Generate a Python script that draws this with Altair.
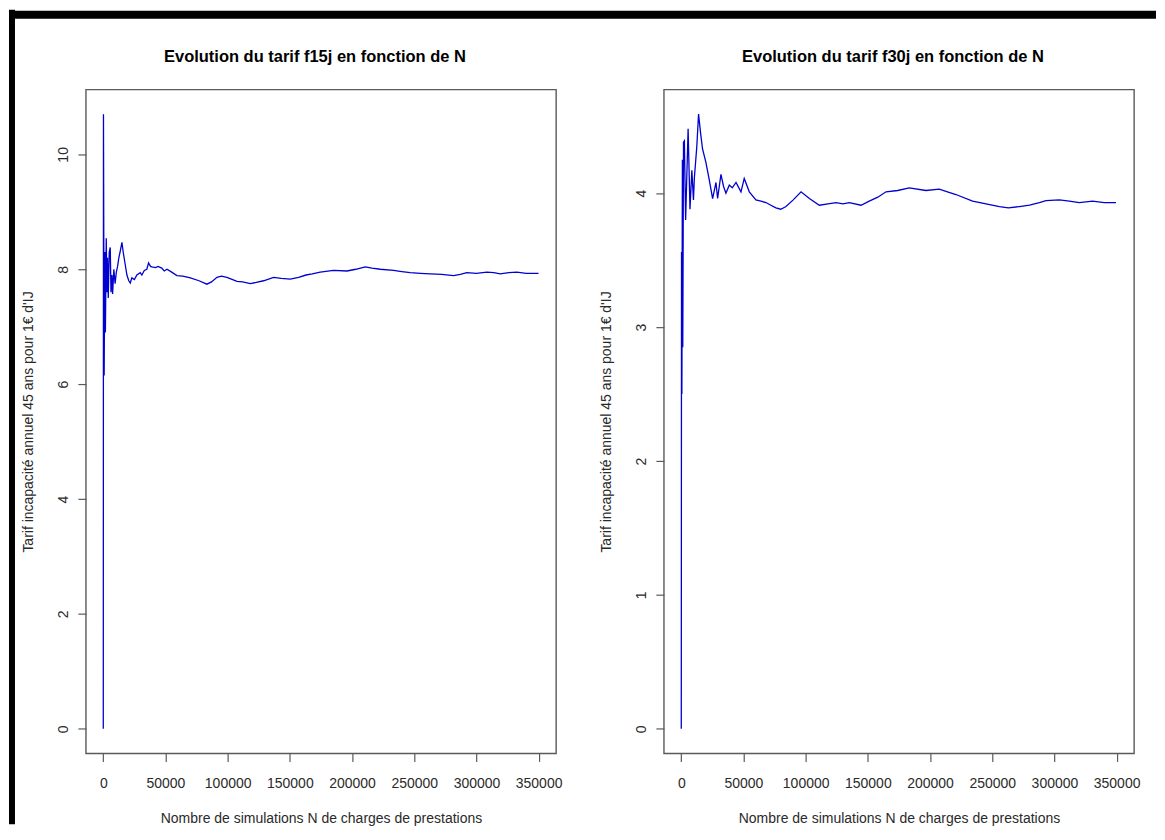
import altair as alt
import pandas as pd

# ---- data ----
n_f15 = [0, 150, 700, 1000, 1300, 1700, 2400, 2900, 3400, 4000, 4800, 5600, 6200,
         7000, 7500, 8500, 9500, 10500, 11500, 12500, 13500, 15000, 16000, 17500,
         19000, 20500, 21700, 23000, 25000, 27000, 29700, 31000, 33000, 35000, 36400,
         38000, 39100, 42000, 44000, 47000, 49000, 51200, 55000, 59200, 64000, 70000,
         77000, 83300, 87000, 91400, 95000, 99400, 103000, 107500, 112000, 118200,
         123000, 128900, 136900, 143000, 150300, 157000, 163000, 168000, 174400,
         185100, 195900, 203000, 210600, 216000, 222700, 233400, 240000, 246800,
         255000, 262900, 272000, 281600, 287000, 292300, 300000, 308400, 314000,
         319100, 326000, 332500, 340000, 349900]
tarif_f15 = [0.0, 10.7, 6.15, 7.4, 8.3, 6.9, 8.54, 7.6, 8.2, 7.5, 8.3, 8.38, 7.6,
             7.9, 7.57, 8.0, 7.75, 7.95, 8.05, 8.2, 8.3, 8.47, 8.3, 8.1,
             7.9, 7.8, 7.76, 7.85, 7.82, 7.9, 7.94, 7.9, 7.98, 8.0, 8.11,
             8.05, 8.04, 8.03, 8.05, 8.02, 7.97, 8.0, 7.95, 7.89, 7.88, 7.85,
             7.8, 7.74, 7.78, 7.86, 7.88, 7.86, 7.83, 7.79, 7.78, 7.75,
             7.77, 7.80, 7.86, 7.84, 7.83, 7.86, 7.9, 7.92, 7.95,
             7.98, 7.97, 8.0, 8.04, 8.02, 8.0, 7.98, 7.96, 7.94,
             7.93, 7.92, 7.91, 7.89, 7.91, 7.94, 7.93, 7.95, 7.94,
             7.92, 7.94, 7.95, 7.93, 7.93]

n_f30 = [0, 200, 500, 900, 1200, 1800, 2500, 3500, 5500, 7000, 8500, 9800, 10500,
         12500, 13900, 15500, 17100, 19800, 22500, 25200, 27900, 29200, 31900, 34000,
         35900, 38600, 41000, 44000, 48000, 50600, 54700, 60000, 64000, 68100, 72000,
         76100, 80000, 84200, 90000, 96300, 103000, 111000, 118000, 124400, 130000,
         135100, 144500, 151100, 158000, 164600, 174000, 183300, 196700, 207400,
         214000, 220800, 234200, 245000, 255800, 263000, 271800, 280000, 287900,
         293200, 303900, 312000, 320000, 330700, 340000, 349500]
tarif_f30 = [0.0, 3.56, 2.5, 4.25, 2.85, 4.38, 4.39, 3.8, 4.48, 3.88, 4.17, 3.95, 4.11,
             4.35, 4.59, 4.45, 4.33, 4.23, 4.1, 3.96, 4.08, 3.96, 4.14, 4.05,
             4.0, 4.06, 4.04, 4.08, 4.01, 4.11, 4.01, 3.95, 3.94, 3.93, 3.91,
             3.89, 3.88, 3.90, 3.95, 4.01, 3.96, 3.91, 3.92, 3.93, 3.92,
             3.93, 3.91, 3.94, 3.97, 4.01, 4.02, 4.04, 4.02, 4.03,
             4.01, 3.99, 3.94, 3.92, 3.90, 3.89, 3.90, 3.91, 3.93,
             3.945, 3.95, 3.94, 3.93, 3.94, 3.93, 3.93]

x_ticks = [0, 50000, 100000, 150000, 200000, 250000, 300000, 350000]
y_ticks_f15 = [0, 2, 4, 6, 8, 10]
y_ticks_f30 = [0, 1, 2, 3, 4]

titles = ["Evolution du tarif f15j en fonction de N",
          "Evolution du tarif f30j en fonction de N"]
x_title = "Nombre de simulations N de charges de prestations"
y_title = "Tarif incapacité annuel 45 ans pour 1€ d'IJ"

# ---- layout ----
W, H = 471, 665
FONT = "Liberation Sans"
TXT = "#2a2a2a"
BOX = "#5a5a5a"


def r_domain(lo, hi):
    ext = (hi - lo) * 0.04
    return [lo - ext, hi + ext]


def panel(n, v, title, yticks, border=False):
    df = pd.DataFrame({"N": n, "tarif": v})
    xdom = r_domain(0, 350000)
    ydom = r_domain(min(v), max(v))
    line = alt.Chart(df).mark_line(color="#0000d0", strokeWidth=1.3).encode(
        x=alt.X("N:Q", scale=alt.Scale(domain=xdom, nice=False, zero=False),
                axis=alt.Axis(values=x_ticks, title=x_title, format="d",
                              titleX=W / 2, titleY=69, titleBaseline="alphabetic",
                              titleAlign="center", labelPadding=15)),
        y=alt.Y("tarif:Q", scale=alt.Scale(domain=ydom, nice=False, zero=False),
                axis=alt.Axis(values=yticks, title=y_title, format="d",
                              labelAngle=270, labelAlign="center",
                              labelBaseline="bottom", labelPadding=7,
                              titleX=-53, titleY=H / 2, titleAngle=270,
                              titleBaseline="alphabetic", titleAlign="center")),
    )
    tdf = pd.DataFrame({"t": [title]})
    head = alt.Chart(tdf).mark_text(
        font=FONT, fontSize=16.5, fontWeight="bold", color="black",
        align="center", baseline="alphabetic"
    ).encode(text="t:N", x=alt.value(W / 2 - 6), y=alt.value(-27.5))
    layers = [line, head]
    if border:
        one = pd.DataFrame({"k": [0]})
        left_band = alt.Chart(one).mark_rect(color="black").encode(
            x=alt.value(-77), x2=alt.value(-71), y=alt.value(-80), y2=alt.value(736))
        top_band = alt.Chart(one).mark_rect(color="black").encode(
            x=alt.value(-77), x2=alt.value(1072), y=alt.value(-79), y2=alt.value(-71))
        layers += [left_band, top_band]
    return alt.layer(*layers).properties(width=W, height=H)


left = panel(n_f15, tarif_f15, titles[0], y_ticks_f15, border=True)
right = panel(n_f30, tarif_f30, titles[1], y_ticks_f30)

chart = alt.hconcat(left, right, spacing=108, bounds="flush").properties(
    padding=0, background="white"
).configure_view(
    stroke=BOX, strokeWidth=1.4
).configure_axis(
    domain=False, grid=False, ticks=True, tickColor=BOX, tickSize=8, tickWidth=1.2,
    labelFont=FONT, labelFontSize=14, labelColor=TXT, labelOverlap=False,
    labelFlush=False, titleFont=FONT, titleFontSize=14, titleFontWeight="normal",
    titleColor=TXT
)

chart.save("out.html", embed_options={"renderer": "svg", "actions": False})
